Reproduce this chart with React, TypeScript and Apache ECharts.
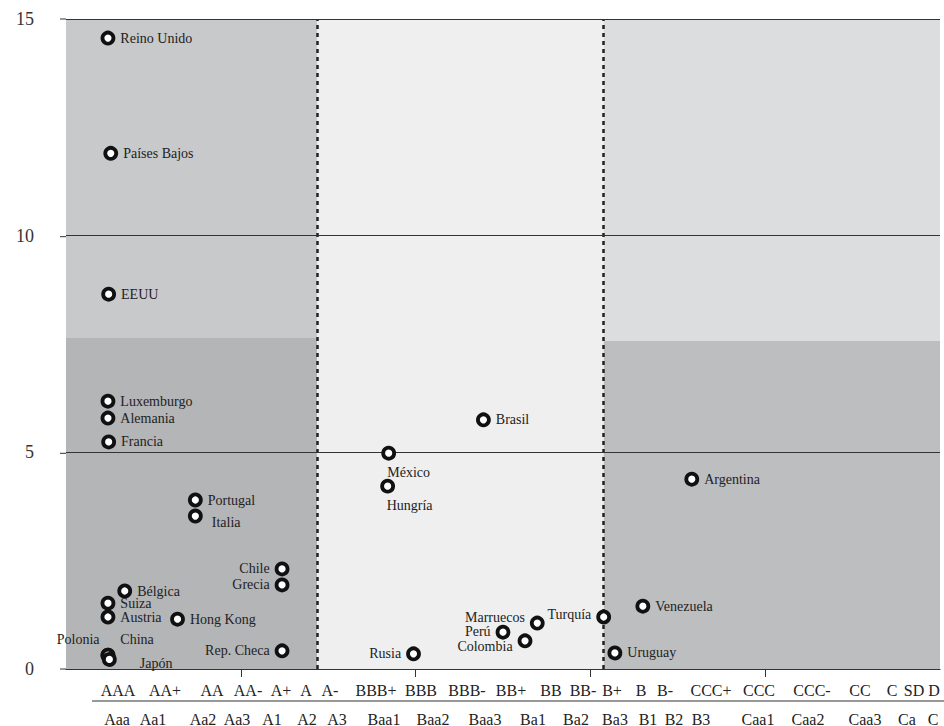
import { useEffect, useRef } from "react";
import * as echarts from "echarts";

const countries = [
  "Reino Unido", "Países Bajos", "EEUU", "Luxemburgo", "Alemania", "Francia",
  "Portugal", "Italia", "Chile", "Grecia", "Bélgica", "Suiza", "Austria",
  "Hong Kong", "Rep. Checa", "Polonia", "China", "Japón", "México", "Hungría",
  "Brasil", "Rusia", "Marruecos", "Perú", "Colombia", "Turquía", "Uruguay",
  "Venezuela", "Argentina",
];
const xValues = [
  1.2, 1.28, 1.22, 1.2, 1.2, 1.22, 3.7, 3.7, 6.18, 6.18, 1.68, 1.2, 1.2,
  3.19, 6.18, 1.2, 1.2, 1.24, 9.23, 9.2, 11.94, 9.94, 13.48, 12.5, 13.13,
  15.38, 15.7, 16.5, 17.9,
];
const yValues = [
  14.56, 11.9, 8.65, 6.18, 5.79, 5.24, 3.9, 3.53, 2.31, 1.94, 1.8, 1.52, 1.2,
  1.15, 0.42, 0.32, 0.32, 0.22, 4.98, 4.22, 5.75, 0.35, 1.06, 0.85, 0.65,
  1.2, 0.37, 1.45, 4.38,
];

const spRatings = [
  "AAA", "AA+", "AA", "AA-", "A+", "A", "A-", "BBB+", "BBB", "BBB-", "BB+", "BB",
  "BB-", "B+", "B", "B-", "CCC+", "CCC", "CCC-", "CC", "C", "SD", "D",
];
const moodyRatings = [
  "Aaa", "Aa1", "Aa2", "Aa3", "A1", "A2", "A3", "Baa1", "Baa2", "Baa3", "Ba1",
  "Ba2", "Ba3", "B1", "B2", "B3", "Caa1", "Caa2", "Caa3", "Ca", "C",
];

// pixel centres of the rating labels
const spX = [118, 165, 212, 248, 281, 306, 330, 376, 421, 467, 511, 551, 583, 612, 641, 665, 711, 759, 812, 860, 892, 914, 934];
const moodyX = [117, 153, 203, 237, 272, 307, 337, 384, 433, 485, 533, 576, 615, 648, 674, 701, 758, 808, 865, 907, 933];

const yTicks = [0, 5, 10, 15];
const dividers = [7.18, 15.38];

// label placement per country: [position, dx, dy]
const labelPlace: Record<string, [string, number, number]> = {
  "Italia": ["right", 4, 6],
  "Chile": ["left", 0, 0],
  "Grecia": ["left", 0, 0],
  "Rep. Checa": ["left", 0, 0],
  "Polonia": ["left", 4, -16],
  "China": ["right", 0, -16],
  "Japón": ["right", 18, 4],
  "México": ["bottom", 20, 0],
  "Hungría": ["bottom", 22, 0],
  "Rusia": ["left", 0, 0],
  "Marruecos": ["left", 0, -6],
  "Perú": ["left", 0, -1],
  "Colombia": ["left", 0, 6],
  "Turquía": ["left", 0, -3],
};

const FONT = "Liberation Serif, DejaVu Serif, serif";

export default function App() {
  const ref = useRef<HTMLDivElement>(null);

  useEffect(() => {
    document.body.style.margin = "0";
    if (!ref.current) return;
    const chart = echarts.init(ref.current, null, { renderer: "svg" });

    const points = countries.map((name, i) => {
      const lp = labelPlace[name] || ["right", 0, 0];
      return {
        name,
        value: [xValues[i], yValues[i]],
        label: { position: lp[0], offset: [lp[1], lp[2]] },
      };
    });

    const textStyle = { fontSize: 16, fontFamily: FONT, fill: "#222", align: "center", verticalAlign: "middle" };
    const graphics: any[] = [];
    spRatings.forEach((t, i) =>
      graphics.push({ type: "text", x: spX[i], y: 690, style: { ...textStyle, text: t } })
    );
    moodyRatings.forEach((t, i) =>
      graphics.push({ type: "text", x: moodyX[i], y: 719, style: { ...textStyle, text: t } })
    );
    graphics.push({
      type: "line", shape: { x1: 92, y1: 701, x2: 944, y2: 701 },
      style: { stroke: "#333", lineWidth: 1.2 },
    });
    [669, 453.3, 236.7, 19].forEach((y) =>
      graphics.push({
        type: "line", shape: { x1: 60, y1: y, x2: 66, y2: y },
        style: { stroke: "#333", lineWidth: 1 },
      })
    );

    chart.setOption({
      animation: false,
      textStyle: { fontFamily: FONT },
      grid: { left: 66, right: 4, top: 19, bottom: 57 },
      xAxis: {
        type: "value", min: 0, max: 25, interval: 5,
        axisLine: { lineStyle: { color: "#333", width: 1.2 } },
        axisTick: { show: true, length: 8, customValues: [5, 10, 15, 20], lineStyle: { color: "#333" } },
        axisLabel: { show: false },
        splitLine: { show: false },
      },
      yAxis: {
        type: "value", min: 0, max: 15, interval: 5,
        axisLine: { show: false },
        axisTick: { show: false },
        axisLabel: {
          color: "#333", fontSize: 18, fontFamily: FONT, margin: 32,
          customValues: yTicks,
        },
        splitLine: { show: false },
      },
      series: [
        {
          type: "scatter",
          data: points,
          symbol: "circle",
          symbolSize: 11,
          itemStyle: { color: "#fff", borderColor: "#111", borderWidth: 3.8, opacity: 1 },
          label: {
            show: true, formatter: "{b}", color: "#222", fontSize: 14,
            fontFamily: FONT, distance: 5,
          },
          z: 5,
          markArea: {
            silent: true,
            data: [
              [{ coord: [0, 7.64], itemStyle: { color: "#c8c9cb" } }, { coord: [dividers[0], 15] }],
              [{ coord: [0, 0], itemStyle: { color: "#b4b5b7" } }, { coord: [dividers[0], 7.64] }],
              [{ coord: [dividers[0], 0], itemStyle: { color: "#efefef" } }, { coord: [dividers[1], 15] }],
              [{ coord: [dividers[1], 7.57], itemStyle: { color: "#dcdddf" } }, { coord: [25, 15] }],
              [{ coord: [dividers[1], 0], itemStyle: { color: "#bdbec0" } }, { coord: [25, 7.57] }],
            ],
          },
          markLine: {
            silent: true,
            symbol: "none",
            label: { show: false },
            data: [
              ...dividers.map((d) => ({ xAxis: d, lineStyle: { color: "#222", type: [4, 4], width: 2.5 } })),
              ...[5, 10, 15].map((v) => ({ yAxis: v, lineStyle: { color: "#333", type: "solid", width: 1 } })),
            ],
          },
        },
      ],
      graphic: graphics,
    });

    return () => chart.dispose();
  }, []);

  return <div ref={ref} style={{ width: 944, height: 726 }} />;
}
